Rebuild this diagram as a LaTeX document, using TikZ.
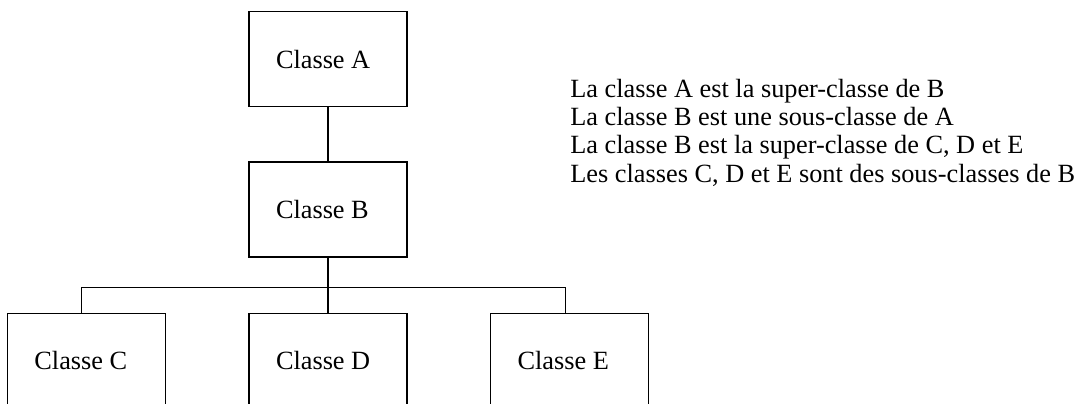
\documentclass[tikz,border=0pt]{standalone}
\usepackage{fontspec}
\setmainfont{Liberation Serif}
\usepackage{tikz}
\usetikzlibrary{positioning}

\tikzset{
  classbox/.style={draw, line width=0.8pt, minimum height=47.5pt,
    text width=52pt, inner xsep=13.5pt, inner ysep=0pt, align=flush left},
  link/.style={line width=0.8pt}
}

\begin{document}
\begin{tikzpicture}[font=\fontsize{13.15pt}{14.15pt}\selectfont]
    \clip (0,0) rectangle (542.5pt,-201.5pt);
    \node[classbox] (cA) at (164pt,-29.5pt) {Classe A};
    \node[classbox, below=26.85pt of cA] (cB) {Classe B};
    \node[classbox, below=27.5pt of cB] (cD) {Classe D};
    \node[classbox, left=41pt of cD] (cC) {Classe C};
    \node[classbox, right=41pt of cD] (cE) {Classe E};
    \coordinate[below=15pt of cB.south] (bus);

    \draw[link] (cA) -- (cB);
    \draw[link] (cB) -- (bus) -- (cD);
    \draw[link] (bus) -| ([xshift=-2.5pt]cC.north);
    \draw[link] (bus) -| ([xshift=-2pt]cE.north);

    \node[anchor=north west, inner sep=0pt, align=left] (notes) at (285pt,-39.35pt)
      {La classe A est la super-classe de B\\
       La classe B est une sous-classe de A\\
       La classe B est la super-classe de C, D et E\\
       Les classes C, D et E sont des sous-classes de B};
\end{tikzpicture}
\end{document}
